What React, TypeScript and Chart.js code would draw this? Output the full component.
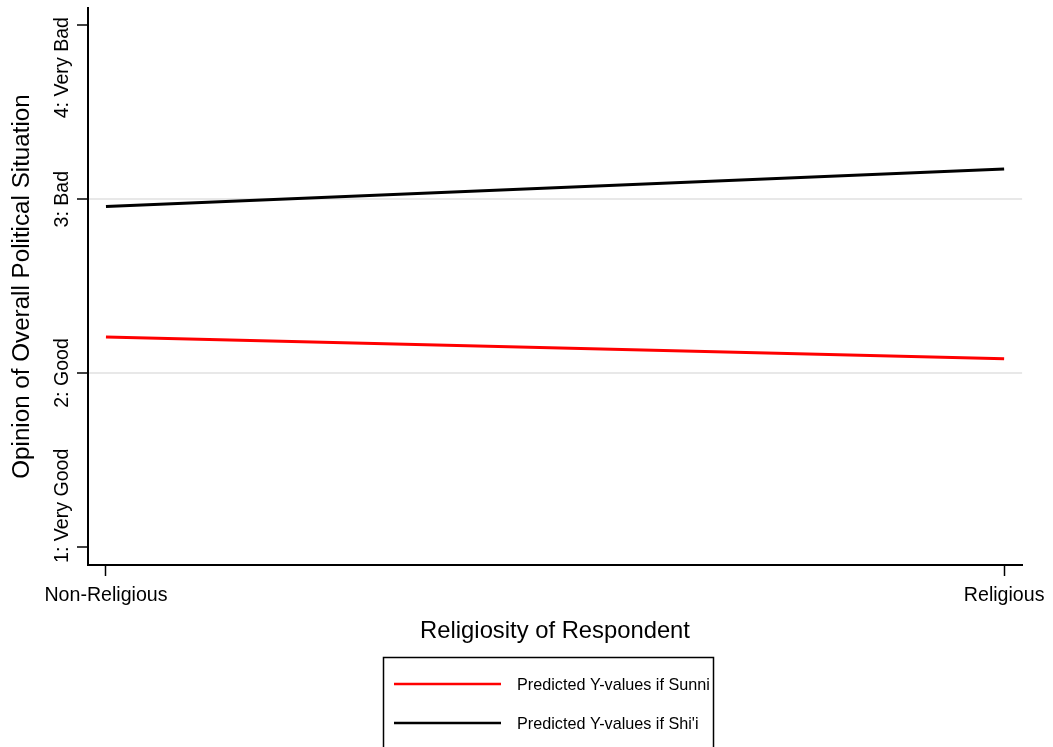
import React, { useEffect, useRef } from "react";
import { Chart, registerables } from "chart.js";

Chart.register(...registerables);

const categories = ["Non-Religious", "Religious"];
const xValues = [0, 1];
const sunniValues = [2.207, 2.082];
const shiiValues = [2.958, 3.173];
const seriesLabels = ["Predicted Y-values if Sunni", "Predicted Y-values if Shi'i"];
const seriesColors = ["#ff0000", "#000000"];
const yTickValues = [1, 2, 3, 4];
const yTickLabels = ["1: Very Good", "2: Good", "3: Bad", "4: Very Bad"];
const yGridValues = [2, 3];
const xTitle = "Religiosity of Respondent";
const yTitle = "Opinion of Overall Political Situation";

const FONT = "'Liberation Sans', Arial, sans-serif";

const customDraw = {
  id: "customDraw",
  afterDraw(chart: any) {
    const ctx = chart.ctx;
    const area = chart.chartArea;
    const yScale = chart.scales.y;
    ctx.save();
    ctx.fillStyle = "#000";
    // y tick labels (rotated)
    ctx.font = `19.6px ${FONT}`;
    ctx.textBaseline = "alphabetic";
    yTickValues.forEach((v, i) => {
      const py = yScale.getPixelForValue(v);
      let anchorY = py;
      let align: CanvasTextAlign = "center";
      if (i === 0) {
        anchorY = area.bottom - 2;
        align = "left";
      } else if (i === yTickValues.length - 1) {
        anchorY = area.top + 9;
        align = "right";
      }
      ctx.save();
      ctx.translate(68, anchorY);
      ctx.rotate(-Math.PI / 2);
      ctx.textAlign = align;
      ctx.fillText(yTickLabels[i], 0, 0);
      ctx.restore();
    });
    // y title
    ctx.font = `24.2px ${FONT}`;
    ctx.save();
    ctx.translate(29, (area.top + area.bottom) / 2);
    ctx.rotate(-Math.PI / 2);
    ctx.textAlign = "center";
    ctx.fillText(yTitle, 0, 0);
    ctx.restore();
    // x title
    ctx.font = `23.8px ${FONT}`;
    ctx.textAlign = "center";
    ctx.fillText(xTitle, (area.left + area.right) / 2, 638);

    // legend
    const lx = 383.5, ly = 657.5, lw = 330, lh = 120;
    ctx.strokeStyle = "#000";
    ctx.lineWidth = 1.5;
    ctx.strokeRect(lx, ly, lw, lh);
    ctx.font = `16.2px ${FONT}`;
    ctx.textAlign = "left";
    chart.data.datasets.forEach((ds: any, i: number) => {
      const yy = 684 + i * 39;
      ctx.strokeStyle = ds.borderColor;
      ctx.lineWidth = 2.5;
      ctx.beginPath();
      ctx.moveTo(394, yy);
      ctx.lineTo(501, yy);
      ctx.stroke();
      ctx.fillStyle = "#000";
      ctx.fillText(ds.label, 517, yy + 6);
    });
    ctx.restore();
  },
};

export default function App() {
  const canvasRef = useRef<HTMLCanvasElement | null>(null);

  useEffect(() => {
    const canvas = canvasRef.current;
    if (!canvas) return;
    const chart = new Chart(canvas, {
      type: "line",
      data: {
        datasets: [
          {
            label: seriesLabels[0],
            data: xValues.map((x, i) => ({ x, y: sunniValues[i] })),
            borderColor: seriesColors[0],
            backgroundColor: seriesColors[0],
            borderWidth: 3,
            pointRadius: 0,
            fill: false,
          },
          {
            label: seriesLabels[1],
            data: xValues.map((x, i) => ({ x, y: shiiValues[i] })),
            borderColor: seriesColors[1],
            backgroundColor: seriesColors[1],
            borderWidth: 3,
            pointRadius: 0,
            fill: false,
          },
        ],
      },
      options: {
        responsive: false,
        animation: false,
        layout: { padding: { top: 8, right: 30, left: 0, bottom: 0 } },
        plugins: {
          legend: { display: false },
          tooltip: { enabled: false },
        },
        scales: {
          x: {
            type: "linear",
            min: -0.02,
            max: 1.02,
            afterBuildTicks: (scale: any) => {
              scale.ticks = xValues.map((v) => ({ value: v }));
            },
            afterFit: (scale: any) => {
              scale.height = 182;
            },
            ticks: {
              color: "#000",
              font: { family: FONT, size: 19.6 },
              padding: 8,
              maxRotation: 0,
              autoSkip: false,
              callback: (value: any) => {
                const idx = xValues.indexOf(Number(value));
                return idx >= 0 ? categories[idx] : "";
              },
            },
            grid: {
              drawOnChartArea: false,
              drawTicks: true,
              tickLength: 11,
              tickColor: "#000",
              tickWidth: 1.5,
            },
            border: { color: "#000", width: 2 },
          },
          y: {
            type: "linear",
            min: 0.895,
            max: 4.1,
            afterBuildTicks: (scale: any) => {
              scale.ticks = yTickValues.map((v) => ({ value: v }));
            },
            afterFit: (scale: any) => {
              scale.width = 88;
            },
            ticks: { display: false },
            grid: {
              color: (c: any) =>
                c.tick && yGridValues.includes(c.tick.value) ? "#e8e8e8" : "rgba(0,0,0,0)",
              lineWidth: 2,
              tickLength: 11,
              tickColor: "#000",
              tickWidth: 1.5,
            },
            border: { color: "#000", width: 2 },
          },
        },
      },
      plugins: [customDraw],
    } as any);
    return () => chart.destroy();
  }, []);

  return (
    <div style={{ position: "absolute", left: 0, top: 0, width: 1053, height: 747, background: "#fff" }}>
      <canvas ref={canvasRef} width={1053} height={747} style={{ display: "block" }} />
    </div>
  );
}
